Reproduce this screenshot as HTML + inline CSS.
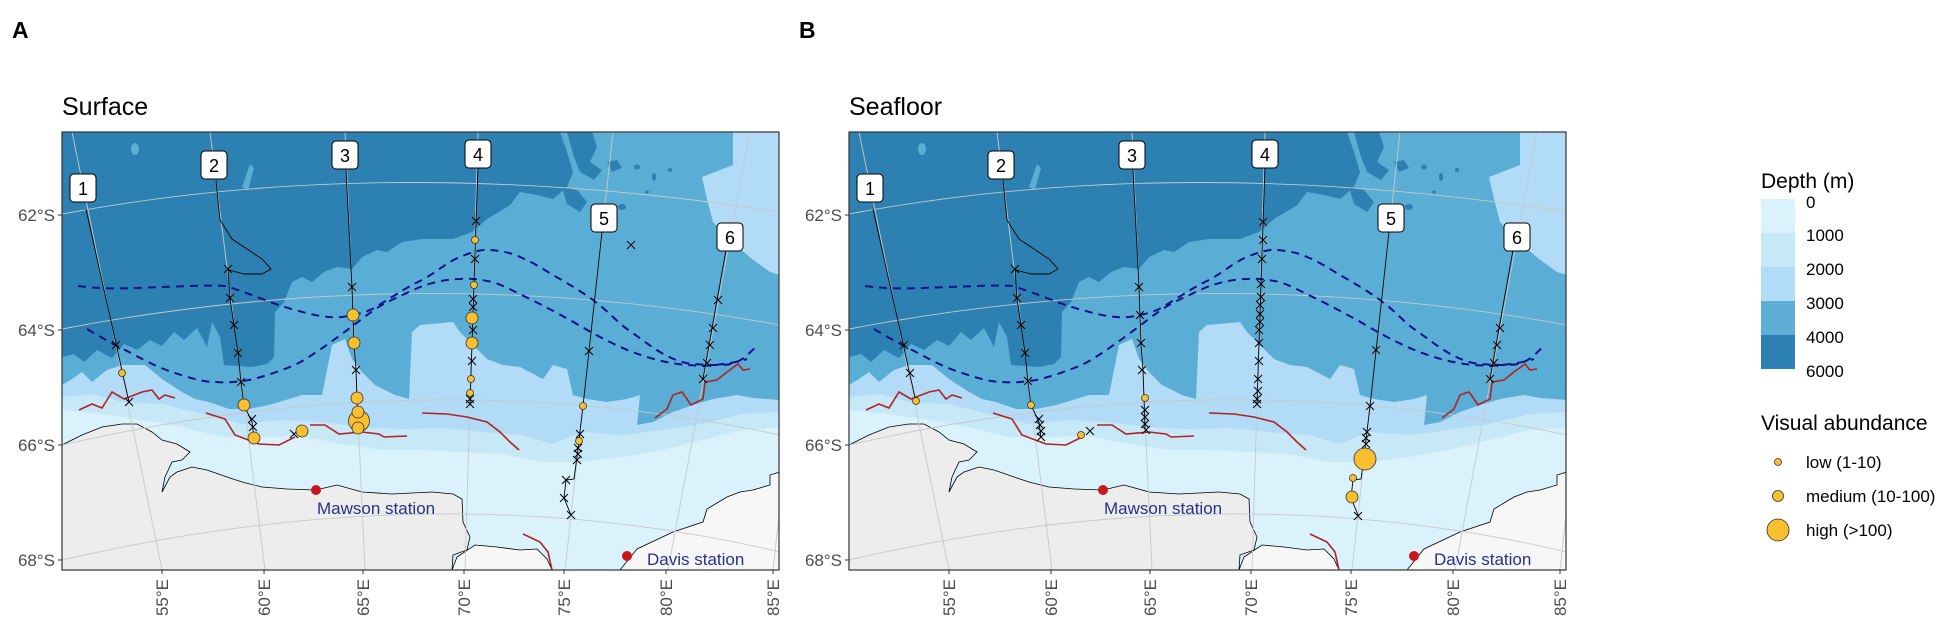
<!DOCTYPE html>
<html><head><meta charset="utf-8"><style>
html,body{margin:0;padding:0;background:#fff;}
svg{display:block;font-family:"Liberation Sans",Arial,sans-serif;}
</style></head><body>
<svg width="1945" height="630" viewBox="0 0 1945 630" xmlns="http://www.w3.org/2000/svg">
<defs>
<clipPath id="pc"><rect x="0" y="0" width="717" height="438"/></clipPath>
<g id="map">
<g clip-path="url(#pc)">
<rect x="0" y="0" width="717" height="438" fill="#2c80b2"/>
<ellipse cx="73" cy="17" rx="4" ry="6" fill="#5aadd5"/>
<path d="M180 55 L188 32 L192 36 L186 58 Z" fill="#5aadd5"/>
<polygon fill="#5aadd5" points="0,225 12,222 22,230 35,218 50,226 62,212 75,218 88,208 100,214 112,200 122,208 135,196 145,215 150,190 158,205 162,233 190,235 205,232 212,225 213,180 222,170 230,150 240,145 250,150 262,140 275,135 290,137 300,125 315,118 325,120 340,110 360,107 391,107 410,100 425,87 440,78 448,73 458,60 475,63 491,67 505,55 511,40 505,20 498,0 718,0 718,438 0,438"/>
<g fill="#2c80b2">
<path d="M505,0 L530,0 L535,15 L528,30 L540,38 L532,48 L518,40 L512,25 Z"/>
<path d="M545,30 L555,28 L560,36 L550,40 Z"/>
<ellipse cx="575" cy="35" rx="3" ry="2.5"/><ellipse cx="592" cy="45" rx="2" ry="4"/>
<path d="M500,55 L515,58 L525,70 L518,80 L505,72 Z"/>
<ellipse cx="560" cy="75" rx="4" ry="3"/><ellipse cx="608" cy="38" rx="2" ry="2"/><ellipse cx="585" cy="60" rx="2" ry="1.5"/>
</g>
<polygon fill="#b1dbf7" points="671,0 671,33 640,45 645,67 651,90 670,110 690,127 708,140 718,143 718,0"/>
<polygon fill="#b1dbf7" points="0,253 10,247 20,240 30,250 45,238 60,233 83,233 100,247 120,260 133,267 147,270 167,277 187,277 207,273 227,267 240,263 260,263 270,213 283,207 290,227 300,240 313,253 333,263 347,267 350,200 358,193 391,190 398,200 425,227 441,233 458,235 481,247 491,233 505,237 511,263 525,267 545,270 565,267 578,263 575,293 591,290 611,280 631,273 651,267 675,263 691,266 718,268 718,438 0,438"/>
<polygon fill="#c7e8f6" points="0,265 30,262 60,270 100,272 140,282 180,292 220,288 260,290 300,295 340,297 380,296 420,300 460,303 490,312 520,300 560,303 600,298 640,292 680,282 718,280 718,438 0,438"/>
<polygon fill="#d9f2fc" points="0,278 40,282 80,288 120,295 160,305 200,305 240,304 280,312 320,318 360,318 400,320 440,322 480,330 520,330 560,325 600,318 640,308 680,298 718,296 718,438 0,438"/>
<polygon fill="#ededed" stroke="#000" stroke-width="0.8" points="0,313 20,303 40,295 60,292 75,292 90,300 100,308 115,312 128,320 120,328 110,330 103,345 100,360 108,345 115,340 130,335 145,338 165,345 180,350 200,355 225,357 254,358 275,353 300,360 330,362 370,360 391,362 400,367 401,390 408,405 405,418 391,423 390,438 0,438"/>
<polygon fill="#f7f7f7" stroke="#000" stroke-width="0.8" points="390,438 395,425 413,413 435,415 458,418 475,417 485,427 490,438"/>
<polygon fill="#f7f7f7" stroke="#000" stroke-width="0.8" points="558,438 575,417 611,400 641,390 645,377 665,365 678,360 691,358 708,353 708,343 718,340 718,438"/>
<g fill="none" stroke="#c8c8c8" stroke-width="0.9">
<path d="M0,82 Q330,20 718,80"/>
<path d="M0,197 Q360,128 718,193"/>
<path d="M0,313 Q370,228 718,303"/>
<path d="M0,428 Q380,340 718,420"/>
<path d="M10,0 L100,438"/><path d="M148,0 L203,438"/><path d="M283,0 L303,438"/><path d="M416,0 L403,438"/><path d="M551,0 L503,438"/><path d="M688,0 L606,438"/><path d="M750,80 L711,438"/>
</g>
<g fill="none" stroke="#b22222" stroke-width="1.6">
<polyline points="17,278 30,272 40,276 50,260 62,267 80,260 90,258 97,267 103,263 113,266"/>
<polyline points="144,281 163,287 173,303 197,312 217,313 233,305"/>
<polyline points="248,293 263,293 277,302 300,300 317,302 322,305 345,304"/>
<polyline points="360,281 385,282 405,285 425,290 438,300 448,310 457,318"/>
<polyline points="593,286 605,277 611,263 620,260 625,267 629,273 641,267 643,250 655,248 665,240 676,232 681,238 688,237"/>
<polyline points="461,402 478,410 486,420 490,438"/>
</g>
<g fill="none" stroke="#10108c" stroke-width="2" stroke-dasharray="8,6">
<path d="M16,154 C47,158 70,156 100,155 C130,154 150,153 163,154 C185,160 210,172 233,178 C255,184 265,186 280,185 C300,182 310,178 317,173 C335,162 345,155 360,148 C375,140 385,130 398,125 C410,120 420,117 428,118 C440,119 450,121 458,125 C475,132 485,140 498,147 C510,154 520,160 531,168 C545,178 555,190 565,197 C578,206 588,214 598,220 C610,227 620,231 631,232 C645,233 650,233 658,233 C666,233 670,232 675,230 C685,225 690,218 696,213"/>
<path d="M25,197 C40,206 55,214 67,220 C82,228 95,235 110,240 C125,245 140,250 153,250 C165,251 175,250 187,248 C205,244 220,238 233,233 C248,225 262,215 273,207 C290,195 305,182 320,173 C335,165 347,160 358,155 C372,150 385,147 398,147 C410,146 420,148 431,150 C445,155 455,161 468,167 C482,174 495,181 508,188 C522,196 535,204 548,210 C560,216 572,221 585,225 C598,229 612,232 625,233 C640,234 645,234 651,233 C665,232 675,230 685,227"/>
</g>
<g fill="none" stroke="#000" stroke-width="0.9">
<polyline points="24,77 67,270"/>
<polyline points="154,48 158,88 170,107 200,127 209,137 200,142 182,142 167,138"/>
<polyline points="166,137 168,166 172,193 176,221 179,250 182,273 190,290 192,306"/>
<polyline points="284,37 290,155 291,183 292,211 294,238 295,266 296,297"/>
<polyline points="416,35 414,90 408,272"/>
<polyline points="540,100 521,274 515,325 512,347 504,348 502,366 509,383"/>
<polyline points="664,118 641,247"/>
</g>
</g>
<g font-size="18" text-anchor="middle" fill="#000">
<rect x="8" y="42" width="26" height="28" rx="4" fill="#fff" stroke="#000"/><text x="21" y="63">1</text>
<rect x="139" y="19" width="26" height="28" rx="4" fill="#fff" stroke="#000"/><text x="152" y="40">2</text>
<rect x="270" y="9" width="26" height="28" rx="4" fill="#fff" stroke="#000"/><text x="283" y="30">3</text>
<rect x="403" y="8" width="26" height="28" rx="4" fill="#fff" stroke="#000"/><text x="416" y="29">4</text>
<rect x="529" y="72" width="26" height="28" rx="4" fill="#fff" stroke="#000"/><text x="542" y="93">5</text>
<rect x="655" y="91" width="26" height="28" rx="4" fill="#fff" stroke="#000"/><text x="668" y="112">6</text>
</g>
<circle cx="254" cy="358" r="5" fill="#c8161e"/>
<text x="255" y="382" font-size="17" fill="#2b2f8a">Mawson station</text>
<circle cx="565" cy="424" r="5" fill="#c8161e"/>
<text x="585" y="433" font-size="17" fill="#2b2f8a">Davis station</text>
<rect x="0" y="0" width="717" height="438" fill="none" stroke="#333" stroke-width="1.2"/>
<g stroke="#333" stroke-width="1">
<line x1="-4" y1="83" x2="0" y2="83"/><line x1="-4" y1="198" x2="0" y2="198"/><line x1="-4" y1="313" x2="0" y2="313"/><line x1="-4" y1="428" x2="0" y2="428"/>
<line x1="100" y1="438" x2="100" y2="442"/><line x1="202" y1="438" x2="202" y2="442"/><line x1="301" y1="438" x2="301" y2="442"/><line x1="402" y1="438" x2="402" y2="442"/><line x1="502" y1="438" x2="502" y2="442"/><line x1="604" y1="438" x2="604" y2="442"/><line x1="711" y1="438" x2="711" y2="442"/>
</g>
<g font-size="17" fill="#4d4d4d" text-anchor="end">
<text x="-7" y="89">62°S</text><text x="-7" y="204">64°S</text><text x="-7" y="319">66°S</text><text x="-7" y="434">68°S</text>
<text transform="translate(106,447) rotate(-90)">55°E</text>
<text transform="translate(208,447) rotate(-90)">60°E</text>
<text transform="translate(307,447) rotate(-90)">65°E</text>
<text transform="translate(408,447) rotate(-90)">70°E</text>
<text transform="translate(508,447) rotate(-90)">75°E</text>
<text transform="translate(610,447) rotate(-90)">80°E</text>
<text transform="translate(717,447) rotate(-90)">85°E</text>
</g>
</g>
</defs>

<text x="12" y="38" font-size="23" font-weight="bold">A</text>
<text x="799" y="38" font-size="23" font-weight="bold">B</text>
<text x="62" y="115" font-size="25">Surface</text>
<text x="849" y="115" font-size="25">Seafloor</text>

<use href="#map" transform="translate(62,132)"/>
<use href="#map" transform="translate(849,132)"/>

<g transform="translate(62,132)">
<path fill="none" stroke="#000" stroke-width="1" d="M50,209l8,8m0,-8l-8,8 M63,266l8,8m0,-8l-8,8 M162,133l8,8m0,-8l-8,8 M164,162l8,8m0,-8l-8,8 M168,189l8,8m0,-8l-8,8 M172,217l8,8m0,-8l-8,8 M175,246l8,8m0,-8l-8,8 M186,283l8,8m0,-8l-8,8 M187,291l8,8m0,-8l-8,8 M228,298l8,8m0,-8l-8,8 M286,151l8,8m0,-8l-8,8 M290,234l8,8m0,-8l-8,8 M410,85l8,8m0,-8l-8,8 M409,123l8,8m0,-8l-8,8 M407,163l8,8m0,-8l-8,8 M407,171l8,8m0,-8l-8,8 M407,194l8,8m0,-8l-8,8 M406,225l8,8m0,-8l-8,8 M404,263l8,8m0,-8l-8,8 M404,268l8,8m0,-8l-8,8 M565,109l8,8m0,-8l-8,8 M523,215l8,8m0,-8l-8,8 M514,298l8,8m0,-8l-8,8 M512,312l8,8m0,-8l-8,8 M512,318l8,8m0,-8l-8,8 M511,324l8,8m0,-8l-8,8 M500,344l8,8m0,-8l-8,8 M498,362l8,8m0,-8l-8,8 M505,379l8,8m0,-8l-8,8 M652,164l8,8m0,-8l-8,8 M647,192l8,8m0,-8l-8,8 M644,209l8,8m0,-8l-8,8 M641,227l8,8m0,-8l-8,8 M637,243l8,8m0,-8l-8,8"/>
<g fill="#f9bf2f" stroke="#333" stroke-width="0.8">
<circle cx="60" cy="241" r="3.5"/>
<circle cx="182" cy="273" r="6"/><circle cx="192" cy="306" r="6"/><circle cx="240" cy="299" r="6"/>
<circle cx="291" cy="183" r="6"/><circle cx="292" cy="211" r="6"/><circle cx="295" cy="266" r="6"/>
<circle cx="297" cy="289" r="10.5"/><circle cx="296" cy="280" r="6"/><circle cx="296" cy="296" r="6"/>
<circle cx="413" cy="108" r="3.5"/><circle cx="412" cy="153" r="3.5"/><circle cx="410" cy="186" r="6"/><circle cx="410" cy="211" r="6"/><circle cx="409" cy="247" r="3.5"/><circle cx="408" cy="261" r="3.5"/>
<circle cx="521" cy="274" r="3.5"/><circle cx="517" cy="309" r="3.5"/>
</g>
</g>

<g transform="translate(849,132)">
<path fill="none" stroke="#000" stroke-width="1" d="M51,209l8,8m0,-8l-8,8 M57,237l8,8m0,-8l-8,8 M162,133l8,8m0,-8l-8,8 M164,162l8,8m0,-8l-8,8 M168,189l8,8m0,-8l-8,8 M172,217l8,8m0,-8l-8,8 M175,245l8,8m0,-8l-8,8 M186,283l8,8m0,-8l-8,8 M187,289l8,8m0,-8l-8,8 M188,295l8,8m0,-8l-8,8 M188,301l8,8m0,-8l-8,8 M237,295l8,8m0,-8l-8,8 M286,151l8,8m0,-8l-8,8 M287,179l8,8m0,-8l-8,8 M288,207l8,8m0,-8l-8,8 M289,234l8,8m0,-8l-8,8 M292,274l8,8m0,-8l-8,8 M292,281l8,8m0,-8l-8,8 M292,288l8,8m0,-8l-8,8 M293,294l8,8m0,-8l-8,8 M410,86l8,8m0,-8l-8,8 M410,104l8,8m0,-8l-8,8 M409,123l8,8m0,-8l-8,8 M408,148l8,8m0,-8l-8,8 M408,161l8,8m0,-8l-8,8 M407,169l8,8m0,-8l-8,8 M407,178l8,8m0,-8l-8,8 M407,186l8,8m0,-8l-8,8 M406,194l8,8m0,-8l-8,8 M406,207l8,8m0,-8l-8,8 M406,225l8,8m0,-8l-8,8 M405,243l8,8m0,-8l-8,8 M405,255l8,8m0,-8l-8,8 M404,263l8,8m0,-8l-8,8 M404,268l8,8m0,-8l-8,8 M523,214l8,8m0,-8l-8,8 M517,270l8,8m0,-8l-8,8 M514,296l8,8m0,-8l-8,8 M513,302l8,8m0,-8l-8,8 M513,308l8,8m0,-8l-8,8 M505,380l8,8m0,-8l-8,8 M647,192l8,8m0,-8l-8,8 M644,209l8,8m0,-8l-8,8 M641,227l8,8m0,-8l-8,8 M637,243l8,8m0,-8l-8,8"/>
<g fill="#f9bf2f" stroke="#333" stroke-width="0.8">
<circle cx="67" cy="269" r="3.5"/>
<circle cx="182" cy="273" r="3.5"/><circle cx="232" cy="303" r="3.5"/>
<circle cx="296" cy="266" r="3.5"/>
<circle cx="516" cy="327" r="11"/><circle cx="504" cy="346" r="3.5"/><circle cx="503" cy="365" r="6"/>
</g>
</g>

<text x="1761" y="188" font-size="21">Depth (m)</text>
<rect x="1761" y="199" width="34" height="34" fill="#d9f2fc"/>
<rect x="1761" y="233" width="34" height="34" fill="#c7e8f6"/>
<rect x="1761" y="267" width="34" height="34" fill="#b1dbf7"/>
<rect x="1761" y="301" width="34" height="34" fill="#5eaed5"/>
<rect x="1761" y="335" width="34" height="34" fill="#2c80b2"/>
<g font-size="17" fill="#000">
<text x="1806" y="208">0</text><text x="1806" y="241">1000</text><text x="1806" y="275">2000</text><text x="1806" y="309">3000</text><text x="1806" y="343">4000</text><text x="1806" y="377">6000</text>
</g>
<text x="1761" y="430" font-size="21">Visual abundance</text>
<g fill="#f9bf2f" stroke="#333" stroke-width="0.8">
<circle cx="1778" cy="462" r="3.5"/><circle cx="1778" cy="496" r="5.5"/><circle cx="1778" cy="530" r="11"/>
</g>
<g font-size="17" fill="#000">
<text x="1806" y="468">low (1-10)</text><text x="1806" y="502">medium (10-100)</text><text x="1806" y="536">high (&gt;100)</text>
</g>
</svg>
</body></html>
